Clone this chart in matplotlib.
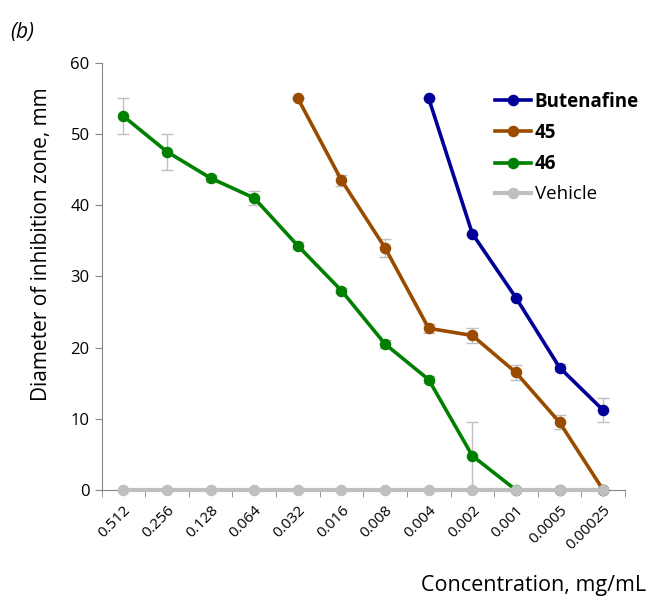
import matplotlib.pyplot as plt
import numpy as np

plt.rcParams['font.family'] = ['Open Sans', 'DejaVu Sans']

conc = ['0.512', '0.256', '0.128', '0.064', '0.032', '0.016', '0.008',
        '0.004', '0.002', '0.001', '0.0005', '0.00025']

# None = no point at that concentration
butenafine = [None, None, None, None, None, None, None, 55, 36, 27, 17.2, 11.2]
butenafine_err = [0, 0, 0, 0, 0, 0, 0, 0, 0, 0, 0.5, 1.7]
c45 = [None, None, None, None, 55, 43.5, 34, 22.7, 21.7, 16.5, 9.5, 0]
c45_err = [0, 0, 0, 0, 0, 0.8, 1.3, 0.6, 1.0, 1.0, 1.0, 0]
c46 = [52.5, 47.5, 43.8, 41, 34.3, 28, 20.5, 15.5, 4.8, 0, 0, 0]
c46_err = [2.5, 2.5, 0.5, 1.0, 0.5, 0.3, 0.5, 0.5, 4.7, 0, 0, 0]
vehicle = [0] * 12

series = [
    ('Butenafine', butenafine, butenafine_err, '#000099', 'bold', 2.6),
    ('45', c45, c45_err, '#994C00', 'bold', 2.6),
    ('46', c46, c46_err, '#008000', 'bold', 2.6),
    ('Vehicle', vehicle, [0] * 12, '#BFBFBF', 'normal', 3.0),
]

fig = plt.figure(figsize=(6.49, 6.02), dpi=100)
ax = fig.add_axes([101.5 / 649, 1 - 490 / 602, 523.5 / 649, 427.3 / 602])

x = np.arange(len(conc)) + 0.5
handles = []
for name, vals, err, col, wt, lw in series:
    idx = [i for i, v in enumerate(vals) if v is not None]
    xs = x[idx]
    ys = np.array([vals[i] for i in idx], dtype=float)
    es = np.array([err[i] for i in idx], dtype=float)
    if es.any():
        ax.errorbar(xs, ys, yerr=es, fmt='none', ecolor='#BFBFBF',
                    elinewidth=1, capsize=4, capthick=1, zorder=2)
    h, = ax.plot(xs, ys, color=col, lw=lw, marker='o', markersize=7.3,
                 zorder=3, clip_on=False)
    handles.append(h)

ax.set_xlim(0, 12)
ax.set_ylim(0, 60)
ax.set_yticks(range(0, 61, 10))
ax.set_xticks(x)
ax.set_xticklabels(conc, rotation=45, ha='right', rotation_mode='anchor',
                   fontsize=11)
ax.set_xticks(np.arange(0, 13), minor=True)
ax.tick_params(axis='x', which='major', length=0, pad=9)
ax.tick_params(axis='x', which='minor', length=5, color='#868686', direction='out')
ax.tick_params(axis='y', length=5, color='#868686', labelsize=12)

for s in ['top', 'right']:
    ax.spines[s].set_visible(False)
for s in ['left', 'bottom']:
    ax.spines[s].set_color('#868686')

ax.set_ylabel('Diameter of inhibition zone, mm', fontsize=15)
ax.yaxis.set_label_coords(-0.095, 0.576)
fig.text(646 / 649, 1 - 591 / 602, 'Concentration, mg/mL', fontsize=15.5,
         ha='right', va='baseline')
fig.text(10 / 649, 1 - 38 / 602, '(b)', fontsize=15, style='italic')

leg = ax.legend(handles, [s[0] for s in series], loc='upper left',
                bbox_to_anchor=(377 / 523.5, 1 - 12 / 427.3), frameon=False,
                fontsize=13.5, handlelength=1.9, handletextpad=0.2,
                labelspacing=0.6)
for t, s in zip(leg.get_texts(), series):
    t.set_fontweight(s[4])

fig.savefig('out.png', dpi=100)
